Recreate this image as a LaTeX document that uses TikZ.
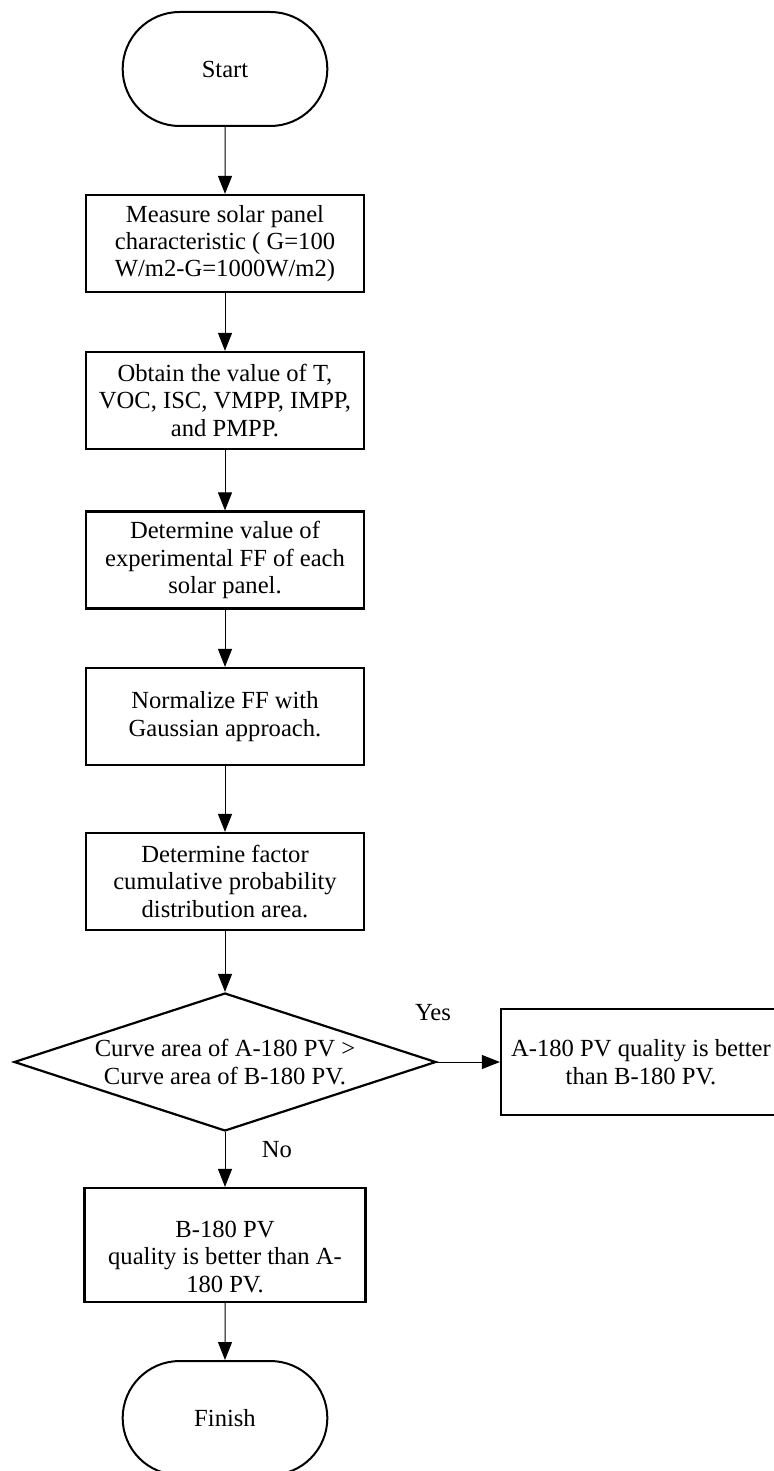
\documentclass[tikz,border=0pt]{standalone}
\usepackage{fontspec}
\setmainfont{Liberation Serif}
\usetikzlibrary{arrows.meta,shapes.misc,shapes.geometric}

\begin{document}
\begin{tikzpicture}[x=0.5pt, y=0.5pt, font=\fontsize{12.3}{13.7}\selectfont,
  box/.style={draw, line width=1.1pt, minimum width=139pt, minimum height=48.5pt, inner sep=2pt, align=center},
  term/.style={draw, line width=1pt, rounded rectangle, minimum width=109pt, minimum height=57pt},
  cond/.style={draw, line width=1.1pt, diamond, aspect=3.06, inner sep=0pt, minimum width=211pt, minimum height=69pt, align=center},
  arr/.style={-{Triangle[length=9pt, width=7pt]}, line width=0.5pt},
  lab/.style={inner sep=0pt}]
  \useasboundingbox (0,0) rectangle (773,-1471);
  % main steps
  \node[term] (start) at (225,-69)    {Start};
  \node[box]  (meas)  at (225,-243.5) {Measure solar panel\\characteristic ( G=100\\W/m2-G=1000W/m2)};
  \node[box]  (obt)   at (225,-400.5) {Obtain the value of T,\\VOC, ISC, VMPP, IMPP,\\and PMPP.};
  \node[box]  (ff)    at (225,-560)   {Determine value of\\experimental FF of each\\solar panel.};
  \node[box]  (norm)  at (225,-716.5) {Normalize FF with\\Gaussian approach.};
  \node[box]  (cdf)   at (225,-881.5) {Determine factor\\cumulative probability\\distribution area.};
  % decision and outcomes
  \node[cond] (dec)   at (225,-1062)  {Curve area of A-180 PV >\\Curve area of B-180 PV.};
  \node[box, minimum width=140pt, minimum height=53pt] (apv) at (641,-1062) {A-180 PV quality is better\\than B-180 PV.};
  \node[box, minimum width=140.5pt, minimum height=57pt] (bpv) at (225,-1245) {\rule{0pt}{20pt}B-180 PV\\quality is better than A-\\180 PV.};
  \node[term] (fin)   at (225,-1418)  {Finish};
  \node[lab] (yes) at (433,-1013) {Yes};
  \node[lab] (no)  at (277,-1150) {No};
  \draw[arr] (start) -- (meas);
  \draw[arr] (meas) -- (obt);
  \draw[arr] (obt) -- (ff);
  \draw[arr] (ff) -- (norm);
  \draw[arr] (norm) -- (cdf);
  \draw[arr] (cdf) -- (dec);
  \draw[arr] (dec) -- (apv);
  \draw[arr] (dec) -- (bpv);
  \draw[arr] (bpv) -- (fin);
\end{tikzpicture}
\end{document}
